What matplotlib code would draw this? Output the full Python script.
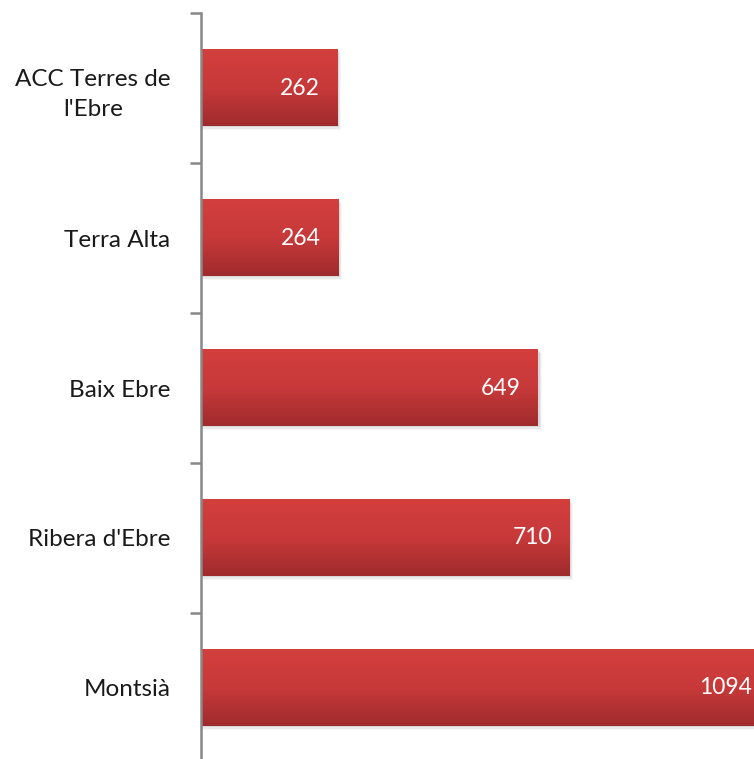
import numpy as np
import matplotlib
matplotlib.use('Agg')
import matplotlib.pyplot as plt
from matplotlib.colors import LinearSegmentedColormap

categories = ["ACC Terres de\nl'Ebre", "Terra Alta", "Baix Ebre", "Ribera d'Ebre", "Montsià"]
values = [262, 264, 649, 710, 1094]

plt.rcParams['font.family'] = ['Lato', 'DejaVu Sans']

fig = plt.figure(figsize=(7.54, 7.59), dpi=100)
ax = fig.add_axes([201 / 754, -4 / 759, 1 - 201 / 754, 750 / 759])

y = np.arange(len(categories))
bars = ax.barh(y, values, height=0.51, color='none', edgecolor='none')

ax.set_xlim(0, 1065)
ax.set_ylim(len(categories) - 0.5, -0.5)

grad = LinearSegmentedColormap.from_list('red_grad', ['#D23F3D', '#C8393A', '#9F2B2C'])
g = np.linspace(0, 1, 256).reshape(-1, 1)
for b, v in zip(bars, values):
    x0, y0 = b.get_x(), b.get_y()
    w, h = b.get_width(), b.get_height()
    # soft shadow under the bar
    for k, a in enumerate([0.07, 0.05, 0.03]):
        off = 0.008 * (k + 1)
        ax.add_patch(plt.Rectangle((x0 + 1, y0 + off), w + 2 * (k + 1), h, color='#000000',
                                   alpha=a, lw=0, zorder=1))
    ax.imshow(g, cmap=grad, aspect='auto', extent=(x0, x0 + w, y0 + h, y0),
              zorder=2, interpolation='bilinear')
    ax.text(x0 + w - 17 / 0.519, y0 + h / 2, str(v), ha='right', va='center',
            color='white', fontsize=16.5, zorder=3, clip_on=False)

ax.set_xlim(0, 1065)
ax.set_ylim(len(categories) - 0.5, -0.5)

ax.set_yticks(np.arange(len(categories) + 1) - 0.5, minor=False)
ax.set_yticklabels([])
ax.set_yticks(y, minor=True)
ax.set_yticklabels(categories, minor=True, fontsize=17.5, color='#1a1a1a',
                   multialignment='center', linespacing=1.55)
ax.tick_params(axis='y', which='major', length=8, width=1.8, color='#888888')
ax.tick_params(axis='y', which='minor', length=0, pad=22)
ax.set_xticks([])

for s in ['top', 'right', 'bottom']:
    ax.spines[s].set_visible(False)
ax.spines['left'].set_color('#888888')
ax.spines['left'].set_linewidth(1.8)

fig.savefig('out.png', dpi=100)
